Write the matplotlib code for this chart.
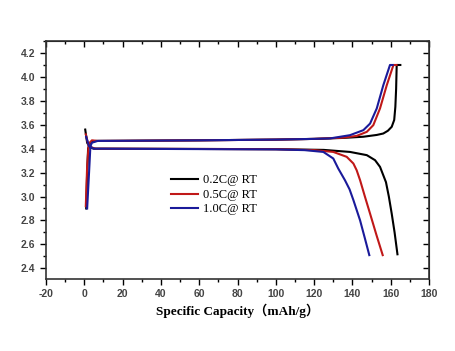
import numpy as np
import matplotlib.pyplot as plt
from matplotlib.ticker import MultipleLocator

plt.rcParams['axes.unicode_minus'] = False

# charge curves (capacity mAh/g, voltage V)
chg_02_x = [1.0, 1.5, 2.0, 3.0, 6, 20, 60, 100, 120, 135, 145.7, 152.7, 156.1, 158.5, 160.5, 161.8, 162.4, 162.8, 163.1, 165]
chg_02_y = [2.90, 3.20, 3.40, 3.45, 3.465, 3.466, 3.470, 3.476, 3.482, 3.49, 3.50, 3.515, 3.527, 3.55, 3.583, 3.64, 3.75, 3.90, 4.10, 4.10]
chg_05_x = [0.8, 1.5, 2.3, 4, 7, 20, 60, 100, 120, 135, 142.2, 147.5, 150.9, 154.4, 157.9, 161.4, 163]
chg_05_y = [2.92, 3.25, 3.44, 3.47, 3.465, 3.466, 3.470, 3.476, 3.482, 3.492, 3.507, 3.541, 3.597, 3.737, 3.93, 4.10, 4.10]
chg_10_x = [1.5, 2.5, 3.2, 4, 7, 20, 60, 100, 120, 128.3, 138.7, 145.7, 149.2, 152.7, 156.1, 159.6, 161]
chg_10_y = [2.90, 3.20, 3.42, 3.45, 3.465, 3.466, 3.470, 3.476, 3.482, 3.486, 3.513, 3.555, 3.61, 3.737, 3.93, 4.10, 4.10]

# discharge curves
dis_02_x = [0.5, 1.5, 3, 5, 10, 100, 125, 138.7, 147.5, 151.8, 154.4, 156.1, 157.5, 159, 160.5, 162, 163.5]
dis_02_y = [3.56, 3.45, 3.41, 3.40, 3.40, 3.396, 3.39, 3.373, 3.346, 3.304, 3.248, 3.178, 3.12, 3.00, 2.857, 2.70, 2.517]
dis_05_x = [0.8, 2, 4, 6, 10, 100, 120, 130, 137, 140.5, 142.2, 144, 146.5, 149.2, 152.5, 155.8]
dis_05_y = [3.52, 3.44, 3.41, 3.40, 3.40, 3.396, 3.388, 3.373, 3.332, 3.276, 3.22, 3.136, 3.00, 2.857, 2.68, 2.51]
dis_10_x = [1.0, 2.5, 5, 10, 100, 115, 124.8, 130, 132.6, 136.1, 138.5, 140.5, 144, 146.5, 148.8]
dis_10_y = [3.50, 3.42, 3.40, 3.40, 3.394, 3.388, 3.373, 3.318, 3.234, 3.136, 3.06, 2.97, 2.80, 2.65, 2.51]

labels = ['0.2C@ RT', '0.5C@ RT', '1.0C@ RT']
colors = ['black', '#c01818', '#1a1a9a']

fig = plt.figure(figsize=(4.55, 3.51), dpi=100)
ax = fig.add_axes([0.101, 0.205, 0.842, 0.678])

charge = [(chg_02_x, chg_02_y), (chg_05_x, chg_05_y), (chg_10_x, chg_10_y)]
discharge = [(dis_02_x, dis_02_y), (dis_05_x, dis_05_y), (dis_10_x, dis_10_y)]
for (cx, cy), (dx, dy), c, lab in zip(charge, discharge, colors, labels):
    ax.plot(dx, dy, color=c, lw=1.5, label=lab)
    ax.plot(cx, cy, color=c, lw=1.5)

ax.set_xlim(-20, 180)
ax.set_ylim(2.31, 4.30)
ax.xaxis.set_major_locator(MultipleLocator(20))
ax.xaxis.set_minor_locator(MultipleLocator(10))
ax.yaxis.set_major_locator(MultipleLocator(0.2))
ax.yaxis.set_minor_locator(MultipleLocator(0.1))
ax.tick_params(which='major', direction='out', length=4, width=1, labelsize=7.5, labelcolor='#444444')
ax.tick_params(which='minor', direction='out', length=2, width=1)
for lbl in ax.get_xticklabels() + ax.get_yticklabels():
    lbl.set_fontweight('bold')
    lbl.set_family('Liberation Sans')

for side in ['top', 'right']:
    sec = ax.secondary_xaxis('top') if side == 'top' else ax.secondary_yaxis('right')
    axis = sec.xaxis if side == 'top' else sec.yaxis
    axis.set_major_locator(MultipleLocator(20 if side == 'top' else 0.2))
    axis.set_minor_locator(MultipleLocator(10 if side == 'top' else 0.1))
    sec.tick_params(which='major', direction='in', length=4, width=1, labelsize=0)
    sec.tick_params(which='minor', direction='in', length=2, width=1)
    axis.set_ticklabels([])

for s in ax.spines.values():
    s.set_linewidth(1.2)
    s.set_color('#333333')

ax.set_xlabel('Specific Capacity（mAh/g）', family=['Liberation Serif', 'Noto Sans CJK SC'],
              fontsize=9.5, fontweight='bold', labelpad=3)

leg = ax.legend(loc='upper left', bbox_to_anchor=(0.297, 0.487), frameon=False,
                prop={'family': 'Liberation Serif', 'size': 9},
                handlelength=2.2, handletextpad=0.35, labelspacing=0.2)

fig.savefig('out.png', dpi=100)
